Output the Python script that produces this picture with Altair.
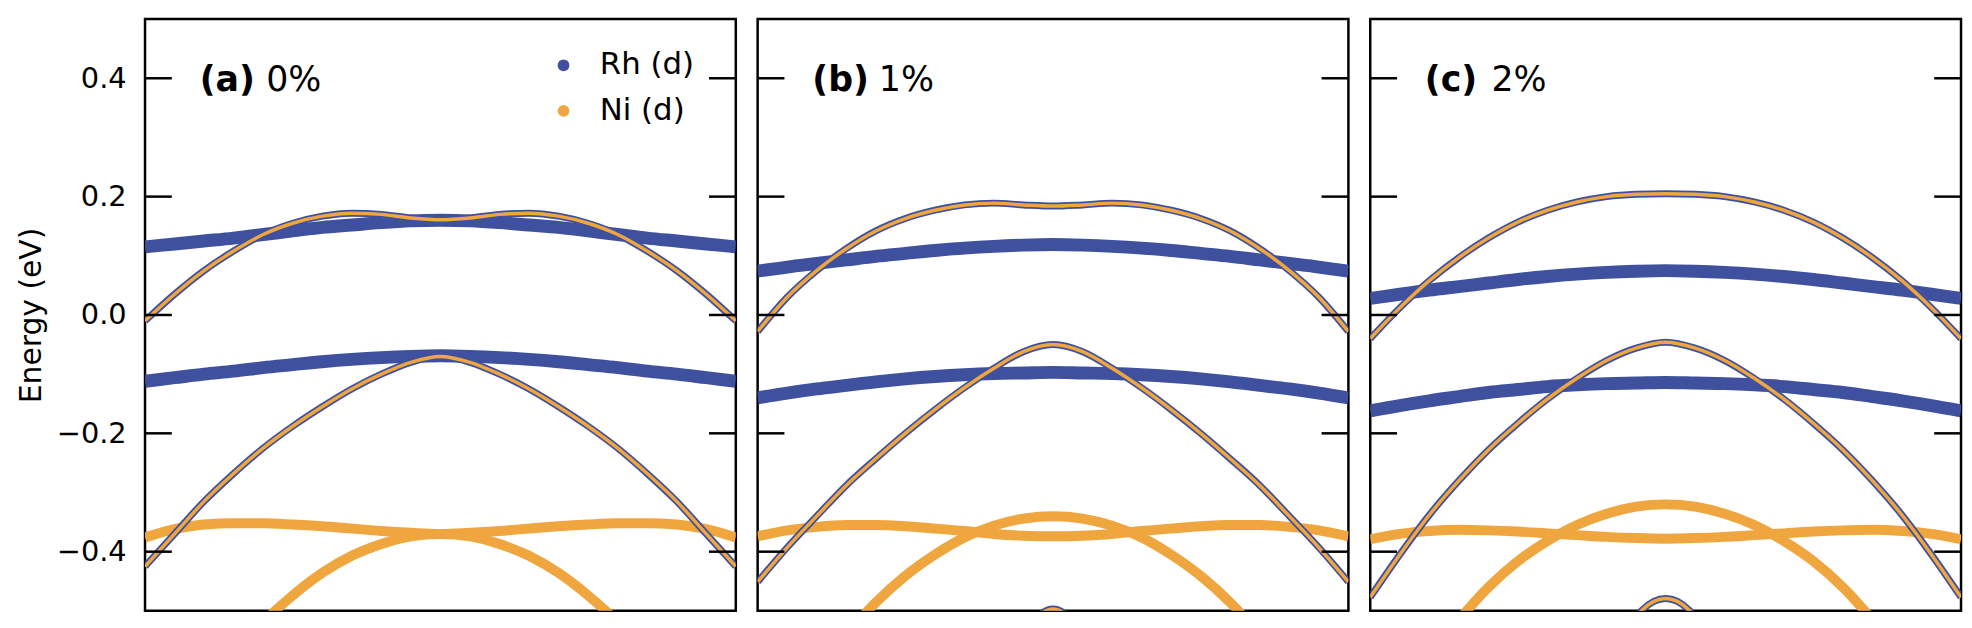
import altair as alt
import pandas as pd

BLUE = "#3f519e"
ORANGE = "#f0a63f"

# k-path sample positions (fraction of the path)
K = [0.0, 0.05, 0.1, 0.15, 0.2, 0.25, 0.3, 0.35, 0.4, 0.45, 0.5,
     0.55, 0.6, 0.65, 0.7, 0.75, 0.8, 0.85, 0.9, 0.95, 1.0]
K_PAR = [0.15, 0.2, 0.25, 0.3, 0.35, 0.4, 0.45, 0.5, 0.55, 0.6, 0.65, 0.7, 0.75, 0.8, 0.85]
K_BOT = [0.44, 0.46, 0.48, 0.5, 0.52, 0.54, 0.56]

# ---- panel (a) 0% ----
A_RH_UP = [0.115, 0.12, 0.125, 0.13, 0.136, 0.142, 0.148, 0.152, 0.156, 0.159, 0.16,
           0.159, 0.156, 0.152, 0.148, 0.142, 0.136, 0.13, 0.125, 0.12, 0.115]
A_MIX_UP = [-0.01, 0.035, 0.075, 0.108, 0.136, 0.155, 0.167, 0.172, 0.17, 0.164, 0.161,
            0.164, 0.17, 0.172, 0.167, 0.155, 0.136, 0.108, 0.075, 0.035, -0.01]
A_RH_LO = [-0.112, -0.106, -0.1, -0.095, -0.089, -0.084, -0.079, -0.075, -0.072, -0.07, -0.069,
           -0.07, -0.072, -0.075, -0.079, -0.084, -0.089, -0.095, -0.1, -0.106, -0.112]
A_MIX_LO = [-0.425, -0.37, -0.315, -0.268, -0.225, -0.188, -0.155, -0.125, -0.1, -0.08, -0.07,
            -0.08, -0.1, -0.125, -0.155, -0.188, -0.225, -0.268, -0.315, -0.37, -0.425]
A_NI_FLAT = [-0.376, -0.362, -0.354, -0.352, -0.352, -0.354, -0.357, -0.361, -0.365, -0.368, -0.37,
             -0.368, -0.365, -0.361, -0.357, -0.354, -0.352, -0.352, -0.354, -0.362, -0.376]
A_NI_PAR = [-0.573, -0.519, -0.474, -0.436, -0.407, -0.387, -0.374, -0.37,
            -0.374, -0.387, -0.407, -0.436, -0.474, -0.519, -0.573]

# ---- panel (b) 1% ----
B_RH_UP = [0.074, 0.081, 0.087, 0.093, 0.099, 0.104, 0.109, 0.113, 0.116, 0.118, 0.119,
           0.118, 0.116, 0.113, 0.109, 0.104, 0.099, 0.093, 0.087, 0.081, 0.074]
B_MIX_UP = [-0.028, 0.03, 0.075, 0.112, 0.142, 0.163, 0.177, 0.186, 0.189, 0.186, 0.184,
            0.186, 0.189, 0.186, 0.177, 0.163, 0.142, 0.112, 0.075, 0.03, -0.028]
B_RH_LO = [-0.14, -0.132, -0.125, -0.119, -0.113, -0.108, -0.104, -0.101, -0.099, -0.098, -0.097,
           -0.098, -0.099, -0.101, -0.104, -0.108, -0.113, -0.119, -0.125, -0.132, -0.14]
B_MIX_LO = [-0.451, -0.393, -0.34, -0.288, -0.243, -0.2, -0.16, -0.123, -0.09, -0.062, -0.05,
            -0.062, -0.09, -0.123, -0.16, -0.2, -0.243, -0.288, -0.34, -0.393, -0.451]
B_NI_FLAT = [-0.374, -0.364, -0.358, -0.355, -0.355, -0.357, -0.361, -0.365, -0.37, -0.373, -0.374,
             -0.373, -0.37, -0.365, -0.361, -0.357, -0.355, -0.355, -0.358, -0.364, -0.374]
B_NI_PAR = [-0.54, -0.486, -0.441, -0.405, -0.376, -0.356, -0.344, -0.34,
            -0.344, -0.356, -0.376, -0.405, -0.441, -0.486, -0.54]
B_MIX_BOT = [-0.565, -0.527, -0.505, -0.497, -0.505, -0.527, -0.565]

# ---- panel (c) 2% ----
C_RH_UP = [0.028, 0.035, 0.042, 0.048, 0.054, 0.06, 0.065, 0.069, 0.072, 0.074, 0.075,
           0.074, 0.072, 0.069, 0.065, 0.06, 0.054, 0.048, 0.042, 0.035, 0.028]
C_MIX_UP = [-0.04, 0.012, 0.058, 0.097, 0.13, 0.157, 0.177, 0.191, 0.2, 0.204, 0.205,
            0.204, 0.2, 0.191, 0.177, 0.157, 0.13, 0.097, 0.058, 0.012, -0.04]
C_RH_LO = [-0.162, -0.153, -0.145, -0.138, -0.131, -0.126, -0.121, -0.118, -0.116, -0.115, -0.114,
           -0.115, -0.116, -0.118, -0.121, -0.126, -0.131, -0.138, -0.145, -0.153, -0.162]
C_MIX_LO = [-0.477, -0.405, -0.338, -0.28, -0.228, -0.183, -0.142, -0.107, -0.077, -0.056, -0.046,
            -0.056, -0.077, -0.107, -0.142, -0.183, -0.228, -0.28, -0.338, -0.405, -0.477]
C_NI_FLAT = [-0.379, -0.37, -0.365, -0.363, -0.364, -0.366, -0.369, -0.372, -0.375, -0.377, -0.378,
             -0.377, -0.375, -0.372, -0.369, -0.366, -0.364, -0.363, -0.365, -0.37, -0.379]
C_NI_PAR = [-0.515, -0.46, -0.416, -0.382, -0.355, -0.336, -0.324, -0.32,
            -0.324, -0.336, -0.355, -0.382, -0.416, -0.46, -0.515]
C_MIX_BOT = [-0.524, -0.499, -0.484, -0.479, -0.484, -0.499, -0.524]

TICKS = [-0.4, -0.2, 0.0, 0.2, 0.4]
PANELS = ["a", "b", "c"]
TAGS = ["(a)", "(b)", "(c)"]
PCTS = ["0%", "1%", "2%"]
LEGEND_NAMES = ["Rh (d)", "Ni (d)"]

BANDS = [
    ("a", "rh_up", "rh", K, A_RH_UP), ("a", "mix_up", "mix", K, A_MIX_UP),
    ("a", "rh_lo", "rh", K, A_RH_LO), ("a", "mix_lo", "mix", K, A_MIX_LO),
    ("a", "ni_flat", "ni", K, A_NI_FLAT), ("a", "ni_par", "ni", K_PAR, A_NI_PAR),
    ("b", "rh_up", "rh", K, B_RH_UP), ("b", "mix_up", "mix", K, B_MIX_UP),
    ("b", "rh_lo", "rh", K, B_RH_LO), ("b", "mix_lo", "mix", K, B_MIX_LO),
    ("b", "ni_flat", "ni", K, B_NI_FLAT), ("b", "ni_par", "ni", K_PAR, B_NI_PAR),
    ("b", "mix_bot", "mix", K_BOT, B_MIX_BOT),
    ("c", "rh_up", "rh", K, C_RH_UP), ("c", "mix_up", "mix", K, C_MIX_UP),
    ("c", "rh_lo", "rh", K, C_RH_LO), ("c", "mix_lo", "mix", K, C_MIX_LO),
    ("c", "ni_flat", "ni", K, C_NI_FLAT), ("c", "ni_par", "ni", K_PAR, C_NI_PAR),
    ("c", "mix_bot", "mix", K_BOT, C_MIX_BOT),
]

rows = []
for p, b, kind, ks, es in BANDS:
    for k, e in zip(ks, es):
        rows.append({"panel": p, "band": b, "kind": kind, "k": k, "E": e})
df = pd.DataFrame(rows)
tick_df = pd.DataFrame({"E": TICKS})
label_df = pd.DataFrame({"panel": PANELS, "tag": TAGS, "pct": PCTS})
legend_df = pd.DataFrame({"orb": LEGEND_NAMES})

W, H = 595, 596
FONT = "DejaVu Sans"

xenc = alt.X("k:Q", scale=alt.Scale(domain=[0, 1], nice=False, zero=False), axis=None)


def make_panel(pid, show_axis, with_legend):
    if show_axis:
        ax = alt.Axis(values=TICKS, format=".1f", ticks=False, domain=False, grid=False,
                      labelFontSize=29, labelFont=FONT, labelColor="black", labelPadding=19,
                      title="Energy (eV)", titleFontSize=30, titleFont=FONT,
                      titleFontWeight="normal", titleColor="black", titlePadding=10)
        yenc = alt.Y("E:Q", scale=alt.Scale(domain=[-0.5, 0.5], nice=False, zero=False), axis=ax)
    else:
        yenc = alt.Y("E:Q", scale=alt.Scale(domain=[-0.5, 0.5], nice=False, zero=False), axis=None)

    base = alt.Chart(df).transform_filter(alt.datum.panel == pid)
    layers = []
    for kind, color, w in [("rh", BLUE, 13), ("ni", ORANGE, 10), ("mix", BLUE, 7), ("mix", ORANGE, 3.5)]:
        layers.append(
            base.transform_filter(alt.datum.kind == kind)
            .mark_line(color=color, strokeWidth=w, clip=True, interpolate="monotone")
            .encode(x=xenc, y=yenc, detail="band:N", order="k:Q")
        )
    # inward ticks, left and right
    layers.append(alt.Chart(tick_df).mark_rule(color="black", strokeWidth=2.5)
                  .encode(y=yenc, x=alt.value(0), x2=alt.value(27)))
    layers.append(alt.Chart(tick_df).mark_rule(color="black", strokeWidth=2.5)
                  .encode(y=yenc, x=alt.value(W - 27), x2=alt.value(W)))
    lab = alt.Chart(label_df).transform_filter(alt.datum.panel == pid)
    layers.append(lab.mark_text(font=FONT, fontSize=35, fontWeight="bold", align="left",
                                baseline="alphabetic", color="black")
                  .encode(text="tag:N", x=alt.value(55), y=alt.value(72)))
    layers.append(lab.mark_text(font=FONT, fontSize=35, fontWeight="normal", align="left",
                                baseline="alphabetic", color="black")
                  .encode(text="pct:N", x=alt.value(122), y=alt.value(72)))
    if with_legend:
        layers.append(
            alt.Chart(legend_df).transform_filter(alt.datum.orb == "none")
            .mark_circle(size=140, opacity=1)
            .encode(x=alt.value(0), y=alt.value(0),
                    color=alt.Color("orb:N",
                                    scale=alt.Scale(domain=LEGEND_NAMES, range=[BLUE, ORANGE]),
                                    legend=alt.Legend(orient="none", legendX=406, legendY=31,
                                                      title=None, labelFontSize=31, labelFont=FONT,
                                                      labelColor="black", symbolSize=140,
                                                      symbolType="circle", symbolStrokeWidth=0,
                                                      rowPadding=14, labelOffset=21, padding=0)))
        )
    return alt.layer(*layers).properties(width=W, height=H)


chart = alt.hconcat(
    make_panel("a", True, True),
    make_panel("b", False, False),
    make_panel("c", False, False),
    spacing=16,
).resolve_legend(color="independent").properties(
    padding={"left": 7, "top": 7, "right": 0, "bottom": 0}
).configure(font=FONT).configure_view(stroke="black", strokeWidth=2.5)

chart.save("out.html", embed_options={"renderer": "svg", "actions": False})
